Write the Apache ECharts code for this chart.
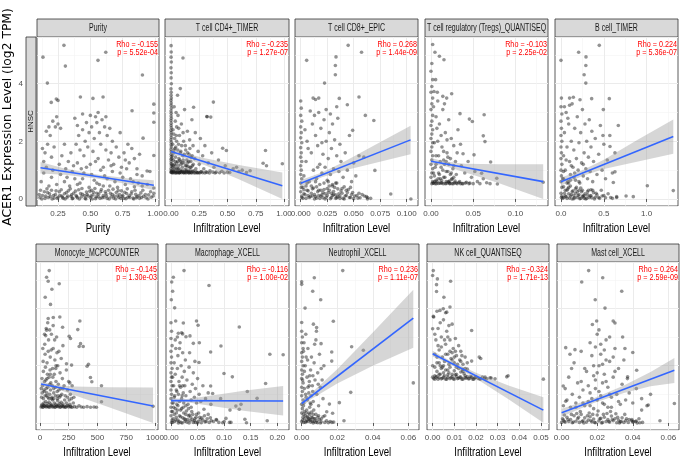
<!DOCTYPE html>
<html><head><meta charset="utf-8">
<script src="https://cdn.jsdelivr.net/npm/echarts@6/dist/echarts.min.js"></script>
<style>html,body{margin:0;padding:0;background:#fff}#c{width:685px;height:474px}</style>
</head><body><div id="c"></div>
<script>
const panelTitles = ['Purity','T cell CD4+_TIMER','T cell CD8+_EPIC','T cell regulatory (Tregs)_QUANTISEQ','B cell_TIMER',
  'Monocyte_MCPCOUNTER','Macrophage_XCELL','Neutrophil_XCELL','NK cell_QUANTISEQ','Mast cell_XCELL'];
const xTitles = ['Purity','Infiltration Level','Infiltration Level','Infiltration Level','Infiltration Level',
  'Infiltration Level','Infiltration Level','Infiltration Level','Infiltration Level','Infiltration Level'];
const rhoLabels = ['Rho = -0.155','Rho = -0.235','Rho = 0.268','Rho = -0.103','Rho = 0.224',
  'Rho = -0.145','Rho = -0.116','Rho = 0.236','Rho = -0.324','Rho = 0.264'];
const pLabels = ['p = 5.52e-04','p = 1.27e-07','p = 1.44e-09','p = 2.25e-02','p = 5.36e-07',
  'p = 1.30e-03','p = 1.00e-02','p = 1.11e-07','p = 1.71e-13','p = 2.59e-09'];
const rowLabel = 'HNSC';
const yTitle = 'ACER1 Expression Level (log2 TPM)';
const yTickValues = [0, 2, 4];
const xTickValues = [[0.25,0.5,0.75,1.0],[0,0.25,0.5,0.75,1.0],[0,0.025,0.05,0.075,0.1],[0,0.05,0.1],[0,0.5,1.0],
  [0,250,500,750,1000],[0,0.05,0.1,0.15,0.2],[0,0.02,0.04,0.06],[0,0.01,0.02,0.03,0.04,0.05],[0,0.02,0.04,0.06]];

const purityPts = [[0.11,0.05],[0.13,0.12],[0.15,0.02],[0.17,0.22],[0.19,0.08],[0.2,0.3],[0.22,0.03],[0.23,0.15],[0.25,0.06],[0.26,0.25],[0.28,0.1],[0.29,0.02],[0.3,0.18],[0.32,0.05],[0.33,0.28],[0.35,0.09],[0.36,0.01],[0.37,0.2],[0.39,0.12],[0.4,0.04],[0.41,0.32],[0.43,0.07],[0.44,0.16],[0.46,0.02],[0.47,0.24],[0.48,0.1],[0.5,0.05],[0.51,0.3],[0.52,0.14],[0.54,0.01],[0.55,0.2],[0.56,0.08],[0.58,0.26],[0.59,0.04],[0.6,0.12],[0.62,0.18],[0.63,0.02],[0.64,0.3],[0.66,0.07],[0.67,0.15],[0.68,0.03],[0.7,0.22],[0.71,0.1],[0.72,0.05],[0.74,0.28],[0.75,0.13],[0.76,0.02],[0.78,0.19],[0.79,0.06],[0.8,0.11],[0.82,0.25],[0.83,0.03],[0.85,0.16],[0.86,0.08],[0.88,0.02],[0.89,0.21],[0.91,0.09],[0.93,0.04],[0.95,0.14],[0.97,0.06],[0.99,0.2],[0.99,0.38],
 [0.105,0.15],[0.115,0.3],[0.125,0.0],[0.145,0.25],[0.155,0.1],[0.165,0.35],[0.175,0.05],[0.185,0.18],[0.205,0.0],[0.215,0.12],[0.235,0.28],[0.245,0.02],[0.265,0.12],[0.275,0.32],[0.285,0.06],[0.305,0.0],[0.315,0.22],[0.325,0.1],[0.345,0.35],[0.355,0.14],[0.365,0.02],[0.385,0.27],[0.395,0.08],[0.415,0.0],[0.425,0.19],[0.435,0.36],[0.455,0.11],[0.465,0.0],[0.475,0.15],[0.495,0.27],[0.505,0.1],[0.515,0.0],[0.525,0.23],[0.535,0.36],[0.545,0.07],[0.565,0.17],[0.575,0.02],[0.585,0.33],[0.605,0.06],[0.615,0.25],[0.625,0.1],[0.645,0.0],[0.655,0.2],[0.675,0.34],[0.685,0.1],[0.695,0.0],[0.715,0.29],[0.725,0.15],[0.735,0.02],[0.745,0.08],[0.765,0.23],[0.775,0.01],[0.785,0.35],[0.805,0.05],[0.815,0.17],[0.835,0.0],[0.845,0.3],[0.855,0.04],[0.875,0.12],[0.895,0.05],[0.905,0.3],[0.925,0.15],[0.945,0.0],[0.965,0.25],[0.985,0.1],
 [0.12,0.6],[0.14,0.9],[0.16,1.1],[0.18,0.45],[0.2,0.75],[0.21,1.0],[0.24,0.5],[0.27,0.85],[0.3,0.6],[0.31,1.05],[0.34,0.45],[0.38,0.7],[0.42,0.55],[0.45,0.9],[0.49,0.4],[0.53,0.65],[0.57,0.5],[0.61,0.8],[0.65,0.45],[0.69,0.6],[0.73,0.9],[0.77,0.5],[0.81,0.7],[0.84,0.42],[0.87,0.55],[0.9,0.8],[0.94,0.5],[0.96,0.95],
 [0.32,0.75],[0.36,0.95],[0.4,0.5],[0.44,0.7],[0.47,1.1],[0.51,0.85],[0.55,0.55],[0.58,1.0],[0.6,0.45],[0.63,0.7],[0.67,0.95],[0.71,0.4],[0.75,0.75],[0.78,1.05],[0.83,0.6],[0.86,0.85],[0.9,0.45],[0.4,1.25],[0.54,1.3],[0.66,1.15],
 [0.14,1.3],[0.15,1.6],[0.17,1.9],[0.18,2.5],[0.19,2.2],[0.2,1.45],[0.21,2.7],[0.22,1.8],[0.23,2.5],[0.24,2.85],[0.25,2.6],[0.26,1.2],[0.27,2.45],[0.16,2.35],[0.13,1.75],[0.28,1.5],[0.3,1.9],[0.33,1.3],
 [0.38,2.8],[0.4,2.55],[0.41,2.2],[0.42,1.7],[0.44,2.4],[0.45,1.5],[0.46,2.0],[0.47,2.65],[0.48,1.8],[0.49,2.3],[0.5,1.2],[0.51,2.5],[0.52,1.65],[0.53,2.1],[0.54,2.85],[0.55,2.65],[0.56,1.4],[0.57,2.3],[0.58,1.9],[0.59,2.75],[0.6,1.1],[0.61,2.5],[0.62,1.7],[0.63,2.2],[0.64,1.35],[0.65,2.45],[0.66,1.6],[0.67,2.0],[0.68,1.2],[0.7,1.8],[0.72,1.45],[0.73,2.3],[0.74,1.1],[0.76,1.6],[0.77,1.35],[0.79,1.9],[0.8,1.25],[0.82,1.75],[0.84,1.4],[0.86,1.05],[0.88,1.55],[0.35,1.6],[0.37,1.15],[0.39,1.9],[0.43,1.05],[0.5,2.9],[0.56,3.0],[0.62,2.85],[0.44,2.95],
 [0.134,4.92],[0.296,5.33],[0.307,4.61],[0.168,4.02],[0.559,4.81],[0.619,5.09],[0.902,4.3],[0.423,3.54],[0.52,3.49],[0.598,3.54],[0.237,3.47],[0.25,3.42],[0.198,3.35],[0.822,3.06],[0.99,3.29],[0.99,2.98],[0.99,2.66],[0.907,2.11],[0.99,1.51],[0.938,0.97]];
const cd4Pts = [[0.001,5.32],[0.002,5.1],[0.001,4.92],[0.003,4.75],[0.0,4.55],[0.002,4.38],[0.001,4.2],[0.003,4.0],[0.0,3.82],[0.002,3.7],[0.001,3.6],[0.003,3.5],[0.0,3.42],[0.002,3.33],[0.001,3.25],[0.004,3.15],[0.0,3.05],[0.002,2.97],[0.001,2.88],[0.003,2.8],[0.0,2.72],[0.002,2.63],[0.001,2.55],[0.003,2.47],[0.0,2.38],[0.002,2.3],[0.001,2.22],[0.003,2.13],[0.0,2.05],[0.002,1.97],[0.001,1.88],[0.003,1.8],[0.0,1.72],[0.002,1.64],[0.001,1.55],[0.003,1.47],[0.0,1.38],[0.002,1.3],[0.001,1.22],[0.003,1.14],[0.0,1.05],[0.002,0.98],[0.001,0.92],
 [0.01,0.92],[0.015,1.1],[0.02,1.35],[0.022,0.95],[0.025,1.6],[0.03,1.2],[0.032,2.1],[0.035,0.9],[0.04,1.45],[0.042,1.8],[0.045,1.05],[0.05,2.5],[0.052,1.25],[0.055,0.93],[0.06,1.7],[0.062,2.9],[0.065,1.15],[0.07,1.4],[0.072,0.91],[0.075,2.2],[0.08,1.0],[0.082,1.6],[0.085,1.3],[0.09,0.95],[0.092,2.6],[0.095,1.85],[0.1,1.1],[0.105,1.5],[0.11,0.92],[0.112,2.0],[0.115,1.25],[0.12,3.1],[0.125,1.02],[0.13,1.7],[0.135,0.94],[0.14,1.35],[0.145,2.35],[0.15,1.12],[0.155,0.96],[0.16,1.55],[0.165,2.05],[0.17,1.0],[0.175,1.3],[0.18,0.92],[0.185,2.75],[0.19,1.15],[0.195,1.85],[0.2,0.98],[0.21,1.4],[0.215,2.3],[0.22,1.05],[0.23,0.92],[0.24,1.65],[0.25,1.2],[0.26,2.1],[0.27,0.95],[0.28,1.5],[0.29,1.05],[0.3,1.85],[0.31,0.94],[0.32,2.85],[0.33,1.25],[0.345,0.98],[0.36,1.6],[0.38,1.1],[0.4,0.93],[0.42,1.35],[0.45,0.96],[0.48,1.15],[0.52,0.92],[0.55,1.05],[0.6,0.95],[0.63,1.0],[0.668,0.92],
 [0.005,0.95],[0.008,1.2],[0.012,1.5],[0.018,0.98],[0.028,1.05],[0.038,1.15],[0.048,0.94],[0.058,1.3],[0.068,1.05],[0.078,0.92],[0.088,1.2],[0.098,0.98],[0.108,1.35],[0.118,0.93],[0.128,1.15],[0.138,1.0],[0.148,1.25],[0.158,0.92],[0.168,1.1],[0.178,1.45],[0.018,2.4],[0.028,3.2],[0.038,2.7],[0.058,3.6],[0.045,3.0],[0.068,2.45],[0.015,1.9],[0.025,2.25],[0.035,1.75],[0.05,2.0],
 [0.003,0.93],[0.013,0.9],[0.023,0.92],[0.033,0.95],[0.043,0.91],[0.053,0.9],[0.063,0.94],[0.073,0.9],[0.083,0.93],[0.093,0.91],[0.103,0.95],[0.113,0.9],[0.123,0.92],[0.133,0.9],[0.143,0.94],[0.153,0.91],[0.163,0.9],[0.173,0.93],[0.183,0.9],[0.193,0.95],[0.203,0.91],[0.213,0.9],[0.223,0.94],[0.233,0.9],[0.243,0.92],[0.253,0.9],[0.263,0.93],[0.28,0.91],[0.3,0.9],[0.32,0.92],[0.34,0.9],[0.37,0.93],[0.39,0.9],[0.43,0.91],[0.47,0.9],[0.5,0.93],
 [0.007,1.4],[0.017,1.15],[0.027,1.7],[0.037,1.3],[0.047,2.2],[0.057,1.05],[0.067,1.9],[0.077,1.35],[0.087,1.65],[0.097,1.25],[0.107,2.3],[0.117,1.55],[0.127,1.85],[0.137,1.15],[0.147,1.6],[0.157,1.3],[0.167,1.75],[0.177,1.1],[0.187,1.5],[0.197,1.2],
 [0.106,4.89],[0.082,3.83],[0.375,3.36],[0.2,3.18],[0.317,2.86],[0.352,2.84],[0.457,1.76],[0.49,1.68],[0.836,1.68],[0.815,1.24],[0.845,1.15],[0.985,1.22],[0.7,0.98],[0.58,1.1]];
const cd8Pts = [[0.0,3.4],[0.0005,3.15],[0.0,2.9],[0.001,2.7],[0.0,2.5],[0.0005,2.3],[0.0,2.12],[0.001,1.95],[0.0,1.78],[0.0005,1.6],[0.0,1.45],[0.001,1.3],[0.0,1.15],[0.0005,1.0],[0.0,0.85],[0.001,0.7],[0.0,0.55],[0.0005,0.4],[0.0,0.25],[0.001,0.1],
 [0.002,0.02],[0.004,0.15],[0.006,0.3],[0.008,0.05],[0.01,0.2],[0.012,0.38],[0.014,0.08],[0.016,0.25],[0.018,0.02],[0.02,0.14],[0.022,0.33],[0.024,0.06],[0.026,0.22],[0.028,0.01],[0.03,0.12],[0.032,0.4],[0.034,0.04],[0.036,0.18],[0.038,0.28],[0.04,0.02],[0.042,0.1],[0.044,0.22],[0.046,0.05],[0.048,0.15],[0.05,0.01],[0.053,0.12],[0.056,0.04],[0.06,0.1],[0.063,0.0],[0.005,0.45],[0.011,0.1],[0.015,0.42],[0.019,0.3],[0.023,0.18],[0.027,0.45],[0.031,0.26],[0.035,0.08],[0.039,0.36],[0.043,0.3],[0.047,0.4],[0.003,0.32],[0.007,0.12],[0.013,0.0],[0.017,0.12],[0.021,0.04],[0.025,0.36],[0.029,0.2],[0.033,0.14],[0.037,0.02],[0.041,0.42],
 [0.001,0.05],[0.003,0.18],[0.005,0.02],[0.007,0.28],[0.009,0.08],[0.011,0.35],[0.013,0.15],[0.015,0.03],[0.017,0.3],[0.019,0.1],[0.021,0.22],[0.023,0.0],[0.025,0.12],[0.027,0.3],[0.029,0.05],[0.031,0.15],[0.033,0.02],[0.035,0.35],[0.037,0.1],[0.039,0.2],[0.041,0.0],[0.043,0.12],[0.045,0.33],[0.047,0.05],[0.049,0.22],[0.051,0.1],[0.054,0.03],[0.058,0.15],[0.062,0.08],[0.066,0.02],[0.002,0.4],[0.006,0.55],[0.01,0.45],[0.014,0.6],[0.018,0.5],[0.022,0.55],[0.026,0.6],[0.03,0.45],[0.034,0.55],
 [0.003,0.8],[0.005,1.3],[0.006,2.0],[0.008,0.6],[0.01,1.6],[0.011,2.6],[0.012,1.0],[0.014,2.2],[0.015,0.7],[0.016,1.85],[0.017,3.0],[0.018,1.2],[0.019,2.45],[0.02,0.9],[0.021,1.55],[0.022,2.75],[0.023,1.1],[0.024,2.0],[0.025,0.65],[0.026,1.4],[0.027,2.3],[0.028,0.85],[0.029,1.75],[0.03,2.6],[0.031,1.05],[0.032,2.05],[0.033,0.55],[0.034,1.5],[0.035,2.8],[0.036,0.95],[0.037,1.9],[0.038,1.3],[0.04,0.75],[0.042,1.6],[0.044,1.0],[0.046,2.2],[0.048,0.6],[0.05,1.25],[0.052,0.8],[0.055,1.5],[0.013,2.9],[0.009,3.05],[0.007,1.75],[0.004,2.4],[0.024,3.1],[0.02,1.95],[0.03,0.5],[0.016,1.1],[0.028,2.95],[0.034,3.2],
 [0.0448,5.33],[0.0574,5.09],[0.0056,4.81],[0.0333,4.93],[0.0327,4.63],[0.0327,4.31],[0.0225,4.02],[0.0117,3.5],[0.014,3.45],[0.0364,3.49],[0.055,3.54],[0.044,3.27],[0.061,2.9],[0.069,2.72],[0.049,2.38],[0.0596,1.45],[0.07,0.99],[0.085,0.17],[0.104,0.0],[0.063,0.05],[0.055,0.2],[0.017,3.5]];
const tregPts = [[0.001,4.7],[0.0,4.43],[0.002,4.14],[0.001,3.9],[0.0,3.7],[0.002,3.5],[0.001,3.3],[0.0,3.1],[0.002,2.9],[0.001,2.7],[0.0,2.55],[0.002,2.4],[0.001,2.25],[0.0,2.1],[0.002,1.95],[0.001,1.8],[0.0,1.65],[0.002,1.5],[0.001,1.35],[0.0,1.2],[0.002,1.05],[0.001,0.9],[0.0,0.75],[0.002,0.6],[0.001,0.53],
 [0.003,0.55],[0.004,0.8],[0.005,1.1],[0.006,1.5],[0.007,0.6],[0.008,2.0],[0.009,0.9],[0.01,2.6],[0.011,1.3],[0.012,0.55],[0.013,1.8],[0.014,3.1],[0.015,0.75],[0.016,1.2],[0.017,2.3],[0.018,0.6],[0.019,1.6],[0.02,0.95],[0.021,2.75],[0.022,0.54],[0.023,1.4],[0.024,2.1],[0.025,0.7],[0.026,1.05],[0.027,1.85],[0.028,0.56],[0.029,1.3],[0.03,0.85],[0.032,2.4],[0.034,0.6],[0.036,1.15],[0.038,0.53],[0.04,0.9],[0.042,0.58],[0.044,1.3],[0.046,0.55],[0.048,0.75],[0.05,0.53],[0.052,0.95],[0.055,0.6],[0.058,0.53],[0.062,0.7],[0.066,0.56],[0.07,0.53],[0.005,0.53],[0.009,0.54],[0.013,0.56],[0.017,0.53],[0.021,0.58],[0.025,0.53],[0.03,0.55],[0.035,0.53],[0.003,3.2],[0.006,2.85],[0.008,3.4],[0.012,2.2],[0.016,3.3],[0.02,1.45],[0.004,1.95],[0.007,2.45],[0.011,0.7],[0.015,1.65],[0.019,2.05],[0.023,0.85],[0.027,1.15],[0.031,1.6],[0.035,1.9],[0.006,0.65],[0.01,0.85],[0.014,1.0],[0.018,1.3],[0.022,0.62],
 [0.0025,0.55],[0.0045,0.6],[0.0065,0.53],[0.0085,0.7],[0.0105,0.55],[0.0125,0.65],[0.0145,0.53],[0.0165,0.75],[0.0185,0.54],[0.0205,0.6],[0.0225,0.53],[0.0245,0.68],[0.0265,0.53],[0.0285,0.62],[0.031,0.53],[0.033,0.57],[0.037,0.53],[0.041,0.55],[0.045,0.53],[0.003,0.9],[0.006,1.2],[0.009,1.5],[0.012,1.1],[0.015,1.35],[0.018,0.95],[0.021,1.2],[0.024,0.9],[0.027,0.75],
 [0.002,5.36],[0.0047,5.09],[0.01,4.95],[0.0154,4.83],[0.0035,3.73],[0.0075,3.7],[0.014,3.56],[0.0186,3.5],[0.0245,3.65],[0.0344,2.96],[0.0455,2.77],[0.049,2.69],[0.063,2.92],[0.062,2.19],[0.064,1.99],[0.0707,1.28],[0.038,1.57],[0.051,1.53],[0.06,0.89],[0.078,0.72],[0.0787,0.52],[0.133,0.58],[0.0055,4.14]];
const bcellPts = [[0.0,4.81],[0.005,3.5],[0.0,3.2],[0.01,2.95],[0.0,2.7],[0.005,2.45],[0.0,2.2],[0.01,2.0],[0.0,1.8],[0.005,1.6],[0.0,1.4],[0.01,1.2],[0.0,1.0],[0.005,0.8],[0.0,0.6],[0.01,0.4],[0.0,0.2],[0.005,0.05],
 [0.02,0.02],[0.04,0.2],[0.06,0.08],[0.08,0.35],[0.1,0.03],[0.12,0.15],[0.14,0.28],[0.16,0.05],[0.18,0.4],[0.2,0.12],[0.22,0.01],[0.24,0.25],[0.26,0.08],[0.28,0.18],[0.3,0.02],[0.32,0.3],[0.34,0.1],[0.36,0.04],[0.38,0.22],[0.4,0.06],[0.42,0.14],[0.45,0.02],[0.48,0.1],[0.52,0.04],[0.55,0.18],[0.6,0.02],[0.65,0.08],[0.03,0.42],[0.07,0.3],[0.11,0.45],[0.15,0.12],[0.19,0.25],[0.23,0.38],[0.27,0.02],[0.31,0.14],[0.35,0.32],[0.39,0.0],[0.05,0.1],[0.09,0.18],[0.13,0.0],[0.17,0.2],[0.21,0.3],[0.25,0.1],
 [0.01,0.1],[0.03,0.05],[0.05,0.3],[0.07,0.02],[0.09,0.4],[0.11,0.1],[0.13,0.25],[0.15,0.01],[0.17,0.35],[0.19,0.05],[0.21,0.15],[0.23,0.02],[0.25,0.3],[0.27,0.12],[0.29,0.0],[0.31,0.25],[0.33,0.05],[0.35,0.12],[0.37,0.3],[0.41,0.2],[0.44,0.05],[0.47,0.3],[0.5,0.12],[0.58,0.05],[0.03,0.7],[0.07,0.55],[0.11,0.65],[0.16,0.9],[0.21,0.6],[0.26,1.2],
 [0.02,0.7],[0.03,1.5],[0.04,2.3],[0.05,1.0],[0.06,3.0],[0.07,1.8],[0.08,0.6],[0.09,2.6],[0.1,1.3],[0.11,0.85],[0.12,2.0],[0.13,3.3],[0.14,1.1],[0.15,1.7],[0.16,2.45],[0.17,0.65],[0.18,1.4],[0.19,2.85],[0.2,1.0],[0.21,1.95],[0.22,0.55],[0.23,2.3],[0.24,1.25],[0.25,3.1],[0.26,0.8],[0.27,1.6],[0.28,2.6],[0.29,1.05],[0.3,2.0],[0.31,0.7],[0.32,1.45],[0.33,2.75],[0.34,0.95],[0.35,1.8],[0.36,2.35],[0.37,0.6],[0.38,1.3],[0.4,2.1],[0.42,0.85],[0.44,1.55],[0.46,2.55],[0.48,1.0],[0.5,1.9],[0.52,0.7],[0.54,1.35],[0.57,2.2],[0.6,0.9],[0.63,1.6],[0.04,3.2],[0.08,2.8],[0.1,3.25],[0.12,1.15],[0.03,0.95],[0.06,1.35],[0.09,0.55],[0.15,0.75],
 [0.447,5.33],[0.206,5.09],[0.292,4.93],[0.29,4.63],[0.27,4.31],[0.29,4.02],[0.358,3.48],[0.564,3.48],[0.1,3.5],[0.144,3.53],[0.222,3.44],[0.669,2.55],[0.494,3.1],[0.572,1.82],[0.49,2.2],[0.63,0.94],[0.611,0.57],[0.844,0.08],[1.008,0.46],[1.311,0.29],[0.65,0.05],[0.76,0.1]];
const monoPts = [[10,0.56],[25,0.55],[40,0.6],[55,0.56],[70,0.58],[85,0.55],[100,0.62],[115,0.56],[130,0.55],[145,0.6],[160,0.57],[175,0.55],[190,0.59],[205,0.56],[220,0.55],[235,0.6],[250,0.56],[265,0.58],[280,0.55],[300,0.57],[320,0.55],[340,0.6],[360,0.56],[380,0.55],[410,0.57],[440,0.55],[470,0.56],[20,0.65],[35,0.7],[50,0.75],[65,0.68],[80,0.72],[95,0.66],[110,0.8],[125,0.7],[140,0.65],[155,0.78],[170,0.68],[185,0.72],[200,0.66],[230,0.7],[260,0.65],[290,0.7],
 [15,0.6],[28,0.56],[33,0.62],[45,0.58],[60,0.6],[75,0.56],[90,0.6],[105,0.57],[120,0.6],[135,0.56],[150,0.58],[165,0.62],[180,0.56],[195,0.6],[210,0.58],[225,0.56],[245,0.6],[270,0.56],[30,0.85],[45,0.95],[55,1.2],[70,0.9],[85,1.35],[100,0.85],[120,1.05],[135,1.25],[150,0.85],[165,1.15],[180,0.95],[200,1.2],[215,0.8],[240,0.9],[255,0.8],[275,0.85],[20,1.05],[40,1.45],[62,1.55],[90,1.7],[112,1.6],[140,2.0],
 [15,0.9],[22,1.3],[30,1.8],[38,1.1],[45,2.4],[52,1.5],[58,0.95],[62,2.1],[68,1.25],[75,2.9],[80,1.6],[85,1.0],[90,2.3],[95,1.4],[100,3.1],[105,0.9],[110,1.9],[115,2.6],[120,1.2],[125,1.7],[130,2.2],[135,0.95],[140,1.45],[145,3.0],[150,1.1],[155,2.0],[160,1.35],[165,2.5],[170,0.9],[175,1.75],[180,1.2],[185,2.25],[190,1.0],[195,1.55],[200,2.7],[210,1.3],[220,0.95],[230,1.85],[240,1.15],[250,1.45],[265,1.0],[280,1.3],[295,0.9],[18,1.55],[28,2.15],[42,2.75],[48,1.95],[55,3.3],[65,1.7],[72,2.5],[78,0.85],[88,1.85],[98,2.55],[108,1.3],[118,0.85],[128,2.9],[138,1.9],[148,2.45],[158,0.95],[35,1.15],[60,1.05],[92,1.15],[25,2.6],[12,1.2],[50,3.05],[85,3.25],[115,3.4],[68,3.5],[40,3.1],
 [81,5.32],[58,5.09],[72,4.95],[168,4.86],[104,4.67],[46,4.39],[92,4.14],[72,3.65],[116,3.68],[173,3.7],[347,3.56],[329,3.26],[58,3.24],[197,3.34],[254,3.03],[266,2.95],[353,2.77],[341,2.67],[376,2.67],[410,1.98],[422,2.05],[439,1.59],[451,1.44],[535,1.3],[535,0.74],[983,0.58],[491,0.55],[231,2.07],[275,2.02],[260,1.4]];
const macroPts = [[0.0,3.5],[0.001,3.2],[0.0,2.95],[0.002,2.7],[0.0,2.5],[0.001,2.3],[0.0,2.1],[0.002,1.9],[0.0,1.75],[0.001,1.6],[0.0,1.45],[0.002,1.3],[0.0,1.15],[0.001,1.0],[0.0,0.85],[0.002,0.7],[0.0,0.55],[0.001,0.4],[0.0,0.25],[0.002,0.1],
 [0.003,0.02],[0.006,0.3],[0.009,0.1],[0.012,0.45],[0.015,0.05],[0.018,0.22],[0.021,0.0],[0.024,0.35],[0.027,0.12],[0.03,0.03],[0.033,0.25],[0.036,0.08],[0.039,0.4],[0.042,0.02],[0.045,0.15],[0.048,0.3],[0.051,0.05],[0.054,0.2],[0.057,0.01],[0.06,0.1],[0.064,0.04],[0.068,0.15],[0.072,0.02],[0.076,0.08],[0.005,0.55],[0.01,0.2],[0.014,0.0],[0.02,0.5],[0.025,0.15],[0.029,0.42],[0.035,0.28],[0.04,0.12],[0.046,0.02],[0.052,0.35],[0.058,0.18],[0.062,0.48],[0.07,0.3],[0.08,0.05],[0.085,0.12],[0.09,0.02],[0.1,0.05],[0.11,0.02],
 [0.001,0.02],[0.004,0.15],[0.007,0.05],[0.01,0.35],[0.013,0.1],[0.016,0.25],[0.019,0.02],[0.022,0.18],[0.026,0.05],[0.028,0.3],[0.031,0.12],[0.034,0.0],[0.037,0.2],[0.041,0.3],[0.044,0.08],[0.047,0.2],[0.05,0.0],[0.055,0.12],[0.063,0.25],[0.066,0.05],[0.074,0.18],[0.003,0.4],[0.008,0.5],[0.013,0.6],[0.018,0.45],[0.023,0.55],[0.028,0.6],[0.033,0.5],[0.038,0.55],[0.006,0.9],[0.011,1.1],[0.016,1.3],[0.021,0.95],
 [0.004,0.7],[0.005,1.3],[0.006,2.1],[0.007,0.95],[0.008,1.7],[0.009,2.6],[0.01,1.15],[0.011,0.65],[0.012,1.9],[0.013,2.35],[0.014,1.0],[0.015,1.45],[0.016,0.75],[0.017,2.8],[0.018,1.25],[0.019,2.0],[0.02,0.85],[0.021,1.6],[0.022,2.45],[0.023,1.05],[0.024,0.7],[0.025,1.8],[0.026,1.3],[0.027,2.2],[0.028,0.95],[0.03,1.5],[0.032,0.65],[0.034,1.95],[0.036,1.1],[0.038,0.8],[0.04,1.35],[0.042,1.75],[0.044,0.9],[0.046,1.2],[0.048,0.7],[0.05,1.55],[0.053,1.0],[0.056,0.75],[0.06,1.3],[0.065,0.85],[0.07,1.05],[0.075,0.65],[0.003,1.6],[0.008,2.9],[0.012,3.0],[0.016,2.6],[0.02,3.15],[0.022,1.3],[0.035,2.45],[0.045,2.15],
 [0.0245,5.32],[0.0044,5.09],[0.0013,4.92],[0.0031,4.6],[0.0006,4.3],[0.0069,4.02],[0.0715,4.8],[0.0088,3.56],[0.0232,3.49],[0.048,3.56],[0.051,3.41],[0.0138,3.13],[0.0219,3.11],[0.0282,3.01],[0.0357,3.04],[0.042,2.78],[0.0533,2.8],[0.0527,2.11],[0.0746,2.48],[0.094,2.69],[0.1285,3.35],[0.186,2.4],[0.211,2.38],[0.0997,1.73],[0.1154,1.61],[0.178,1.38],[0.1436,1.1],[0.162,0.86],[0.0746,1.29],[0.0784,1.03],[0.0934,0.85],[0.111,0.45],[0.122,0.59],[0.1285,0.48],[0.1317,0.65],[0.139,0.13],[0.142,0.01],[0.181,0.08],[0.0972,0.01],[0.1128,0.02],[0.1034,0.16],[0.0859,0.1]];
const neutroPts = [[0.0,3.2],[0.0004,3.0],[0.0,2.8],[0.0008,2.6],[0.0,2.45],[0.0004,2.3],[0.0,2.15],[0.0008,2.0],[0.0,1.85],[0.0004,1.7],[0.0,1.55],[0.0008,1.4],[0.0,1.25],[0.0004,1.1],[0.0,0.95],[0.0008,0.8],[0.0,0.65],[0.0004,0.5],[0.0,0.35],[0.0008,0.2],[0.0,0.05],
 [0.001,0.02],[0.002,0.25],[0.003,0.1],[0.004,0.35],[0.005,0.03],[0.006,0.18],[0.007,0.05],[0.008,0.3],[0.009,0.01],[0.01,0.12],[0.011,0.04],[0.012,0.22],[0.013,0.02],[0.014,0.08],[0.015,0.01],[0.016,0.05],[0.017,0.02],[0.018,0.03],[0.0015,0.4],[0.0025,0.05],[0.0035,0.2],[0.0045,0.12],[0.0055,0.38],[0.0065,0.0],[0.0075,0.15],[0.0085,0.08],[0.0095,0.25],[0.0105,0.0],
 [0.0005,0.1],[0.001,0.3],[0.0015,0.15],[0.002,0.02],[0.0025,0.35],[0.003,0.22],[0.0035,0.05],[0.004,0.15],[0.0045,0.3],[0.005,0.1],[0.0055,0.2],[0.006,0.05],[0.0065,0.3],[0.007,0.15],[0.008,0.02],[0.009,0.2],[0.011,0.15],[0.013,0.25],[0.0012,0.7],[0.0022,1.0],[0.0032,0.8],[0.0042,1.3],[0.0052,0.65],[0.0062,1.1],[0.0005,1.5],[0.0015,1.8],[0.0025,2.3],[0.0035,1.25],[0.0045,1.65],[0.001,2.5],
 [0.001,0.6],[0.0015,1.2],[0.002,2.0],[0.0025,0.9],[0.003,1.6],[0.0035,2.6],[0.004,1.05],[0.0045,0.55],[0.005,1.85],[0.0055,2.3],[0.006,1.3],[0.0065,0.75],[0.007,2.1],[0.0075,1.5],[0.008,2.9],[0.0085,1.0],[0.009,1.75],[0.0095,0.6],[0.01,2.4],[0.0105,1.25],[0.011,1.9],[0.012,0.85],[0.0013,2.8],[0.0023,3.1],[0.0033,2.2],[0.0043,1.45],[0.0053,0.95],[0.0063,1.65],[0.0073,2.75],[0.0083,3.2],[0.0093,1.35],[0.0028,0.45],[0.0048,0.7],[0.0068,0.45],[0.0115,1.5],[0.0125,2.0],[0.0109,2.77],
 [0.0231,5.32],[0.0071,5.07],[0.0,4.93],[0.0,4.84],[0.0062,4.6],[0.0107,4.3],[0.0019,4.01],[0.0178,3.55],[0.0,3.51],[0.0066,3.45],[0.0084,3.33],[0.0281,2.66],[0.0347,2.54],[0.0169,2.48],[0.0169,2.16],[0.0628,1.4],[0.0276,1.07],[0.0212,0.71],[0.0156,0.66],[0.0141,0.39],[0.0174,0.34],[0.0238,0.08]];
const nkPts = [[0.0005,1.55],[0.0015,1.6],[0.0025,1.53],[0.0035,1.7],[0.0045,1.56],[0.0055,1.65],[0.0065,1.53],[0.0075,1.75],[0.0085,1.58],[0.0095,1.54],[0.0105,1.68],[0.0115,1.55],[0.0125,1.6],[0.0135,1.53],[0.0145,1.72],[0.0155,1.56],[0.0165,1.54],[0.0175,1.62],[0.0185,1.53],[0.0195,1.58],[0.021,1.55],[0.023,1.6],[0.025,1.54],[0.027,1.57],[0.002,1.8],[0.004,1.9],[0.006,1.85],[0.008,1.95],[0.01,1.82],[0.012,1.9],[0.014,1.8],[0.016,1.88],[0.001,1.65],[0.003,1.58],[0.005,1.75],[0.007,1.6],[0.009,1.7],[0.011,1.62],[0.013,1.78],[0.015,1.65],
 [0.0,1.6],[0.001,1.53],[0.002,1.62],[0.003,1.7],[0.004,1.54],[0.005,1.6],[0.006,1.53],[0.007,1.68],[0.008,1.55],[0.009,1.62],[0.01,1.53],[0.011,1.7],[0.012,1.56],[0.013,1.6],[0.014,1.53],[0.015,1.58],[0.016,1.62],[0.017,1.55],[0.018,1.6],[0.019,1.53],[0.02,1.6],[0.022,1.53],[0.024,1.56],[0.001,1.95],[0.003,2.1],[0.005,2.0],[0.007,1.85],[0.009,2.2],[0.011,1.95],[0.013,2.15],[0.015,1.9],[0.002,2.3],[0.006,2.4],[0.008,2.5],[0.01,2.3],[0.0025,2.7],[0.0055,2.9],
 [0.0,2.0],[0.001,2.4],[0.0015,2.9],[0.002,2.1],[0.0025,3.3],[0.003,2.55],[0.0035,2.0],[0.004,3.0],[0.0045,2.3],[0.005,3.6],[0.0055,2.15],[0.006,2.75],[0.0065,3.2],[0.007,2.4],[0.0075,2.05],[0.008,2.9],[0.0085,2.25],[0.009,3.45],[0.0095,2.6],[0.01,2.1],[0.0105,2.95],[0.011,2.35],[0.0115,2.05],[0.012,2.7],[0.0125,2.2],[0.013,2.5],[0.014,2.05],[0.015,2.3],[0.016,2.1],[0.0005,3.7],[0.002,3.9],[0.0035,3.5],[0.006,3.85],[0.0075,3.4],[0.001,3.1],[0.004,2.65],[0.007,3.0],[0.009,2.45],[0.0045,1.95],[0.0105,2.5],[0.0135,2.35],
 [0.0003,5.32],[0.0,5.15],[0.0022,5.03],[0.0083,4.95],[0.0018,4.83],[0.0018,4.59],[0.0052,4.39],[0.008,4.05],[0.0049,3.99],[0.0065,3.87],[0.0034,3.93],[0.0003,3.72],[0.0,3.29],[0.018,3.23],[0.0215,2.3],[0.0222,2.25],[0.018,2.16],[0.0138,1.87],[0.0342,1.61],[0.0348,1.65],[0.0288,1.54],[0.0265,1.58],[0.0511,1.53],[0.0218,1.55],[0.0242,1.6]];
const mastPts = [[0.0,0.02],[0.001,0.1],[0.002,0.03],[0.003,0.2],[0.004,0.05],[0.005,0.12],[0.006,0.01],[0.007,0.25],[0.008,0.06],[0.009,0.15],[0.01,0.02],[0.011,0.3],[0.012,0.08],[0.013,0.18],[0.014,0.03],[0.015,0.1],[0.016,0.22],[0.017,0.04],[0.018,0.14],[0.019,0.01],[0.02,0.28],[0.021,0.07],[0.022,0.16],[0.023,0.02],[0.024,0.2],[0.025,0.05],[0.026,0.12],[0.027,0.03],[0.028,0.24],[0.029,0.08],[0.03,0.15],[0.031,0.01],[0.032,0.1],[0.033,0.04],[0.034,0.18],[0.035,0.02],[0.036,0.08],[0.038,0.12],[0.04,0.03],[0.042,0.07],[0.044,0.01],[0.0105,0.4],[0.0155,0.35],[0.0205,0.42],[0.0255,0.33],[0.0055,0.3],[0.0305,0.32],[0.0355,0.3],[0.0005,0.15],[0.0125,0.0],[0.0225,0.0],[0.0325,0.0],[0.0425,0.0],[0.0015,0.28],[0.0085,0.33],[0.0175,0.3],[0.0275,0.4],
 [0.0015,0.05],[0.0035,0.12],[0.0065,0.03],[0.0095,0.2],[0.0115,0.05],[0.0145,0.25],[0.0165,0.08],[0.0185,0.02],[0.0215,0.15],[0.0235,0.3],[0.0265,0.05],[0.0285,0.12],[0.0315,0.2],[0.0335,0.05],[0.0365,0.15],[0.0375,0.02],[0.0395,0.12],[0.0415,0.05],[0.0435,0.15],[0.0455,0.02],[0.008,0.55],[0.012,0.7],[0.016,0.6],[0.02,0.8],[0.024,0.65],[0.028,0.55],[0.032,0.75],[0.019,1.2],[0.023,1.4],[0.027,1.0],[0.021,2.0],[0.025,2.2],[0.018,1.65],[0.022,2.75],
 [0.001,0.6],[0.002,1.2],[0.003,0.8],[0.004,1.6],[0.005,0.55],[0.006,1.0],[0.007,2.1],[0.008,0.7],[0.009,1.4],[0.01,0.9],[0.011,2.5],[0.012,1.15],[0.013,0.6],[0.014,1.8],[0.015,1.3],[0.016,2.8],[0.017,0.85],[0.018,2.0],[0.019,1.5],[0.02,3.1],[0.021,1.1],[0.022,2.4],[0.023,0.7],[0.024,1.7],[0.025,2.9],[0.026,1.25],[0.027,2.15],[0.028,0.9],[0.029,1.6],[0.03,2.6],[0.031,1.0],[0.032,1.9],[0.033,0.65],[0.034,1.35],[0.035,2.2],[0.036,0.8],[0.037,1.55],[0.038,1.05],[0.04,0.7],[0.042,1.2],[0.045,0.85],[0.048,0.6],[0.05,1.0],[0.016,1.05],[0.019,2.65],[0.021,3.25],[0.023,2.05],[0.017,2.35],[0.025,1.45],[0.027,3.0],[0.029,2.3],[0.013,1.9],[0.011,1.45],[0.022,0.95],[0.02,1.75],[0.024,2.55],[0.018,0.5],[0.026,0.55],[0.03,1.8],[0.015,0.75],
 [0.0152,5.32],[0.0113,4.92],[0.0231,5.07],[0.0338,4.6],[0.0189,4.3],[0.0244,4.01],[0.0173,3.44],[0.0197,3.56],[0.029,3.56],[0.03,3.49],[0.0356,2.6],[0.04,2.46],[0.0343,3.0],[0.0023,2.63],[0.0047,2.4],[0.0075,2.56],[0.0056,1.9],[0.0009,1.29],[0.0023,0.76],[0.0422,1.84],[0.0371,1.61],[0.045,0.45],[0.0487,0.63],[0.0553,0.08],[0.0634,0.68],[0.0403,0.05],[0.0394,0.08]];

const purityFit = [[0.115,1.08],[0.99,0.475]];
const cd4Fit = [[0,1.65],[0.985,0.46]];
const cd8Fit = [[0,0.545],[0.1037,2.05]];
const tregFit = [[0,1.31],[0.133,0.60]];
const bcellFit = [[0,0.60],[1.311,2.17]];
const monoFit = [[10,1.36],[983,0.59]];
const macroFit = [[0,0.78],[0.211,0.77]];
const neutroFit = [[0,0.68],[0.0628,3.66]];
const nkFit = [[0,2.42],[0.0511,0.45]];
const mastFit = [[0,0.36],[0.0634,1.84]];

// confidence band: [x, lower, upper]
const purityBand = [[0.115,0.88,1.28],[0.3,0.84,1.06],[0.55,0.71,0.85],[0.8,0.50,0.71],[0.99,0.30,0.65]];
const cd4Band = [[0,1.55,1.75],[0.1,1.45,1.61],[0.3,1.17,1.41],[0.6,0.68,1.18],[0.985,0.0,0.92]];
const cd8Band = [[0,0.43,0.66],[0.02,0.75,0.92],[0.04,0.98,1.27],[0.07,1.25,1.87],[0.1037,1.55,2.54]];
const tregBand = [[0,1.2,1.42],[0.015,1.15,1.31],[0.04,0.93,1.22],[0.08,0.55,1.2],[0.133,0.0,1.2]];
const bcellBand = [[0,0.46,0.74],[0.25,0.80,1.00],[0.5,1.04,1.36],[0.9,1.30,2.06],[1.311,1.57,2.76]];
const monoBand = [[10,1.26,1.46],[130,1.21,1.33],[300,0.97,1.27],[600,0.55,1.25],[983,0.0,1.24]];
const macroBand = [[0,0.70,0.86],[0.03,0.72,0.84],[0.08,0.58,0.97],[0.14,0.42,1.13],[0.211,0.26,1.29]];
const neutroBand = [[0,0.55,0.81],[0.005,0.82,1.02],[0.02,1.38,1.88],[0.04,2.0,3.16],[0.0628,2.63,4.65]];
const nkBand = [[0,2.32,2.52],[0.008,2.05,2.17],[0.02,1.55,1.75],[0.035,0.83,1.31],[0.0511,0.01,0.90]];
const mastBand = [[0,0.22,0.50],[0.018,0.70,0.86],[0.035,1.05,1.31],[0.05,1.28,1.78],[0.0634,1.40,2.27]];

const allPts = [purityPts,cd4Pts,cd8Pts,tregPts,bcellPts,monoPts,macroPts,neutroPts,nkPts,mastPts];
const allFits = [purityFit,cd4Fit,cd8Fit,tregFit,bcellFit,monoFit,macroFit,neutroFit,nkFit,mastFit];
const allBands = [purityBand,cd4Band,cd8Band,tregBand,bcellBand,monoBand,macroBand,neutroBand,nkBand,mastBand];

// layout: grid rect + x scale
const layout = [
  {l:37, t:37, w:122, h:169, min:0.088, max:1.03, step:0.25, dec:2},
  {l:165,t:37, w:124, h:169, min:-0.053, max:1.044, step:0.25, dec:2},
  {l:295,t:37, w:123, h:169, min:-0.0054, max:0.1107, step:0.025, dec:3},
  {l:425,t:37, w:123, h:169, min:-0.0071, max:0.1387, step:0.05, dec:2},
  {l:555,t:37, w:123, h:169, min:-0.07, max:1.366, step:0.5, dec:1},
  {l:36, t:262,w:122, h:168, min:-34, max:1026, step:250, dec:0},
  {l:166,t:262,w:123, h:168, min:-0.0094, max:0.222, step:0.05, dec:2},
  {l:296,t:262,w:123, h:168, min:-0.0032, max:0.066, step:0.02, dec:2},
  {l:427,t:262,w:122, h:168, min:-0.0026, max:0.0537, step:0.01, dec:2},
  {l:557,t:262,w:122, h:168, min:-0.0026, max:0.066, step:0.02, dec:2}
];
const FONT = "'Liberation Sans',Arial,sans-serif";

const grids=[], xAxes=[], yAxes=[], series=[], graphics=[];
layout.forEach((L,i)=>{
  grids.push({left:L.l, top:L.t, width:L.w, height:L.h, show:true, borderColor:'#333', borderWidth:0.8, backgroundColor:'#fff'});
  const fmt = v=>{const k=Math.round(v/L.step); return Math.abs(v-k*L.step)<L.step*1e-3 ? (k*L.step).toFixed(L.dec) : '';};
  xAxes.push({type:'value', gridIndex:i, min:L.min, max:L.max, minInterval:L.step, maxInterval:L.step, splitNumber:4,
    axisLine:{show:false},
    axisTick:{show:true, length:3, lineStyle:{color:'#333', width:0.8}, customValues:xTickValues[i]},
    axisLabel:{fontSize:8, color:'#4d4d4d', margin:4, fontFamily:FONT, customValues:xTickValues[i], formatter:fmt},
    splitLine:{show:true, lineStyle:{color:'#ebebeb', width:1}},
    minorTick:{show:false, splitNumber:2},
    minorSplitLine:{show:true, lineStyle:{color:'#f3f3f3', width:0.6}}
  });
  const showY = i===0;
  yAxes.push({type:'value', gridIndex:i, min:-0.245, max:5.62, minInterval:2, maxInterval:2, splitNumber:3,
    axisLine:{show:false},
    axisTick:{show:false},
    axisLabel:{show:showY, fontSize:8, color:'#4d4d4d', margin:14, fontFamily:FONT,
      formatter:v=> yTickValues.some(t=>Math.abs(t-v)<1e-6) ? String(Math.round(v)) : ''},
    splitLine:{show:true, lineStyle:{color:'#ebebeb', width:1}},
    minorTick:{show:false, splitNumber:2},
    minorSplitLine:{show:true, lineStyle:{color:'#f3f3f3', width:0.6}}
  });
  series.push({type:'scatter', xAxisIndex:i, yAxisIndex:i, data:allPts[i], symbolSize:3.6, silent:true,
    itemStyle:{color:'rgba(30,30,30,0.6)'}, z:2});
  const band = allBands[i];
  series.push({type:'custom', xAxisIndex:i, yAxisIndex:i, data:band, silent:true, z:3, clip:true,
    encode:{x:0, y:[1,2]},
    renderItem:(params, api)=>{
      if (params.dataIndex!==0) return null;
      const pts=[];
      band.forEach(b=>pts.push(api.coord([b[0],b[2]])));
      for(let k=band.length-1;k>=0;k--) pts.push(api.coord([band[k][0],band[k][1]]));
      return {type:'polygon', shape:{points:pts}, style:{fill:'rgba(153,153,153,0.4)', stroke:null}};
    }});
  series.push({type:'line', xAxisIndex:i, yAxisIndex:i, data:allFits[i], showSymbol:false, silent:true, z:4,
    lineStyle:{color:'#3366FF', width:1.6}});
  // strip
  const sh = 18;
  graphics.push({type:'rect', shape:{x:L.l, y:L.t-sh, width:L.w, height:sh}, style:{fill:'#d9d9d9', stroke:'#333', lineWidth:0.8}, silent:true});
  graphics.push({type:'text', x:L.l+L.w/2, y:L.t-sh/2, scaleX:0.7, silent:true,
    style:{text:panelTitles[i], align:'center', verticalAlign:'middle', textAlign:'center', textVerticalAlign:'middle', fontSize:10, fontFamily:FONT, fill:'#1a1a1a'}});
  graphics.push({type:'text', x:L.l+L.w-1, y:L.t+3, scaleX:0.8, silent:true, z:10,
    style:{text:rhoLabels[i]+'\n'+pLabels[i], align:'right', verticalAlign:'top', textAlign:'right', textVerticalAlign:'top', fontSize:9, lineHeight:8.5, fontFamily:FONT, fill:'#ff0000'}});
  graphics.push({type:'text', x:L.l+L.w/2, y:L.t+L.h+23, scaleX:0.77, silent:true,
    style:{text:xTitles[i], align:'center', verticalAlign:'middle', textAlign:'center', textVerticalAlign:'middle', fontSize:12.5, fontFamily:FONT, fill:'#000'}});
});
graphics.push({type:'rect', shape:{x:26, y:37, width:10, height:169}, style:{fill:'#d9d9d9', stroke:'#333', lineWidth:0.8}, silent:true});
graphics.push({type:'text', x:31, y:121.5, rotation:Math.PI/2, silent:true,
  style:{text:rowLabel, align:'center', verticalAlign:'middle', textAlign:'center', textVerticalAlign:'middle', fontSize:8, fontFamily:FONT, fill:'#1a1a1a'}});
graphics.push({type:'text', x:8, y:117, rotation:Math.PI/2, silent:true,
  style:{text:yTitle, align:'center', verticalAlign:'middle', textAlign:'center', textVerticalAlign:'middle', fontSize:12.3, fontFamily:"'DejaVu Sans',sans-serif", fill:'#000'}});

const chart = echarts.init(document.getElementById('c'), null, {renderer:'canvas'});
chart.setOption({animation:false, backgroundColor:'#fff', grid:grids, xAxis:xAxes, yAxis:yAxes, series:series, graphic:graphics});
</script></body></html>
